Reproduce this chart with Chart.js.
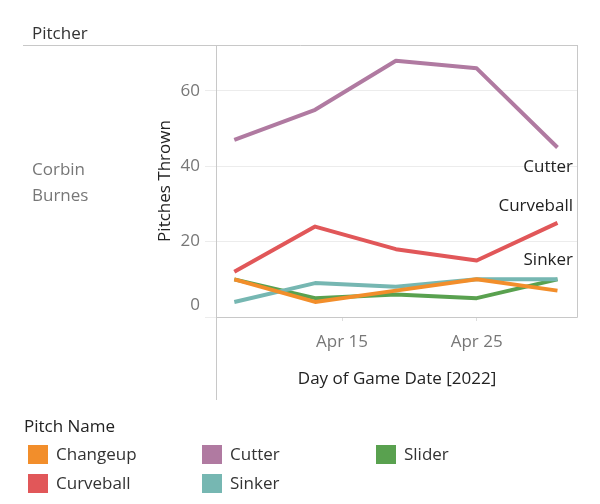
<!DOCTYPE html>
<html>
<head>
<meta charset="utf-8">
<script src="https://cdn.jsdelivr.net/npm/chart.js@4.4.1/dist/chart.umd.min.js"></script>
<style>
  html, body { margin: 0; padding: 0; background: #fff; }
  #wrap { width: 600px; height: 504px; }
</style>
</head>
<body>
<div id="wrap"><canvas id="pitchChart" width="600" height="504"></canvas></div>
<script>
// Game days, counted in days from Mar 31 2022 (31 = May 1)
const gameDays = [7, 13, 19, 25, 31];
const xTickDays = [15, 25];

const pitchNames = ['Changeup', 'Curveball', 'Cutter', 'Sinker', 'Slider'];
const pitchColors = ['#f28e2b', '#e15759', '#b07aa1', '#76b7b2', '#59a14f'];

// Pitches thrown per game
const changeup  = [10, 4, 7, 10, 7];
const curveball = [12, 24, 18, 15, 25];
const cutter    = [47, 55, 68, 66, 45];
const sinker    = [4, 9, 8, 10, 10];
const slider    = [10, 5, 6, 5, 10];

const seriesValues = [changeup, curveball, cutter, sinker, slider];
const drawOrder = [0, 3, 4, 1, 2]; // lower = drawn on top
const endLabels = { Cutter: 20, Curveball: -17, Sinker: -19 };

const FONT = '"Open Sans", "Noto Sans", sans-serif';
const FS = 17;
const INK = '#333333';
const GREY = '#777777';

function dayLabel(v) {
    return v > 30 ? 'May ' + (v - 30) : 'Apr ' + v;
}

// Tableau-style frame, header, row label, line end labels and legend
const decorPlugin = {
    id: 'decor',
    beforeDraw(chart) {
        // Tableau lifts the bottom axis label so it stays inside the pane
        const items = chart.scales.y.getLabelItems();
        const zero = items.find(it => it.label === '0');
        if (zero && !zero._lifted) {
            zero.options.translation[1] -= 12;
            zero._lifted = true;
        }
    },
    afterDatasetsDraw(chart) {
        const { ctx, chartArea: a } = chart;
        ctx.save();

        // frame lines
        ctx.strokeStyle = '#c8c8c8';
        ctx.lineWidth = 1;
        ctx.beginPath();
        ctx.moveTo(23, a.top + 0.5); ctx.lineTo(a.right + 0.5, a.top + 0.5);
        ctx.moveTo(a.right + 0.5, a.top); ctx.lineTo(a.right + 0.5, a.bottom + 0.5);
        ctx.moveTo(a.left - 0.5, a.bottom + 0.5); ctx.lineTo(a.right + 0.5, a.bottom + 0.5);
        ctx.moveTo(a.left - 0.5, a.top); ctx.lineTo(a.left - 0.5, 400);
        ctx.stroke();

        // header and row label
        ctx.textBaseline = 'middle';
        ctx.textAlign = 'left';
        ctx.font = FS + 'px ' + FONT;
        ctx.fillStyle = INK;
        ctx.fillText('Pitcher', 32, 34);
        ctx.fillStyle = GREY;
        ctx.fillText('Corbin', 32, 170);
        ctx.fillText('Burnes', 32, 196);

        // labels at the end of lines
        ctx.fillStyle = '#222';
        ctx.textAlign = 'right';
        chart.data.datasets.forEach((ds, i) => {
            if (!(ds.label in endLabels)) return;
            const pts = chart.getDatasetMeta(i).data;
            const last = pts[pts.length - 1];
            ctx.fillText(ds.label, a.right - 4, last.y + endLabels[ds.label]);
        });

        // legend, filled column by column
        ctx.textAlign = 'left';
        ctx.fillStyle = '#222';
        ctx.fillText('Pitch Name', 24, 427);
        chart.data.datasets.forEach((ds, i) => {
            const col = Math.floor(i / 2), row = i % 2;
            const x = 28 + col * 174, y = 445 + row * 29;
            ctx.fillStyle = ds.borderColor;
            ctx.fillRect(x, y, 20, 19);
            ctx.fillStyle = INK;
            ctx.fillText(ds.label, x + 28, y + 10.5);
        });

        ctx.restore();
    }
};

new Chart(document.getElementById('pitchChart'), {
    type: 'line',
    data: {
        datasets: pitchNames.map((name, i) => ({
            label: name,
            data: gameDays.map((d, j) => ({ x: d, y: seriesValues[i][j] })),
            borderColor: pitchColors[i],
            backgroundColor: pitchColors[i],
            borderWidth: 4,
            pointRadius: 0,
            tension: 0,
            borderJoinStyle: 'round',
            order: drawOrder[i]
        }))
    },
    options: {
        responsive: false,
        animation: false,
        layout: { padding: { left: 150, top: 45, right: 23, bottom: 107 } },
        plugins: {
            legend: { display: false },
            tooltip: { enabled: false }
        },
        scales: {
            x: {
                type: 'linear',
                min: 5.715,
                max: 32.45,
                afterBuildTicks: s => { s.ticks = xTickDays.map(v => ({ value: v })); },
                afterFit: s => { s.height = 80; },
                border: { display: false },
                grid: { drawOnChartArea: false, drawTicks: true, tickLength: 4, color: '#dddddd' },
                ticks: {
                    padding: 10.5,
                    color: GREY,
                    font: { family: FONT, size: FS },
                    callback: v => dayLabel(v)
                },
                title: {
                    display: true,
                    text: 'Day of Game Date [2022]',
                    color: '#222',
                    font: { family: FONT, size: FS },
                    padding: { top: 0, bottom: 7.5 }
                }
            },
            y: {
                min: 0,
                max: 72.2,
                afterFit: s => { s.width = 67; },
                border: { display: false },
                grid: { color: '#ececec', drawTicks: true, tickLength: 12 },
                ticks: {
                    stepSize: 20,
                    includeBounds: false,
                    padding: 5,
                    color: GREY,
                    font: { family: FONT, size: FS }
                },
                title: {
                    display: true,
                    text: 'Pitches Thrown',
                    color: '#222',
                    font: { family: FONT, size: FS },
                    padding: { top: 5, bottom: 0 }
                }
            }
        }
    },
    plugins: [decorPlugin]
});
</script>
</body>
</html>
